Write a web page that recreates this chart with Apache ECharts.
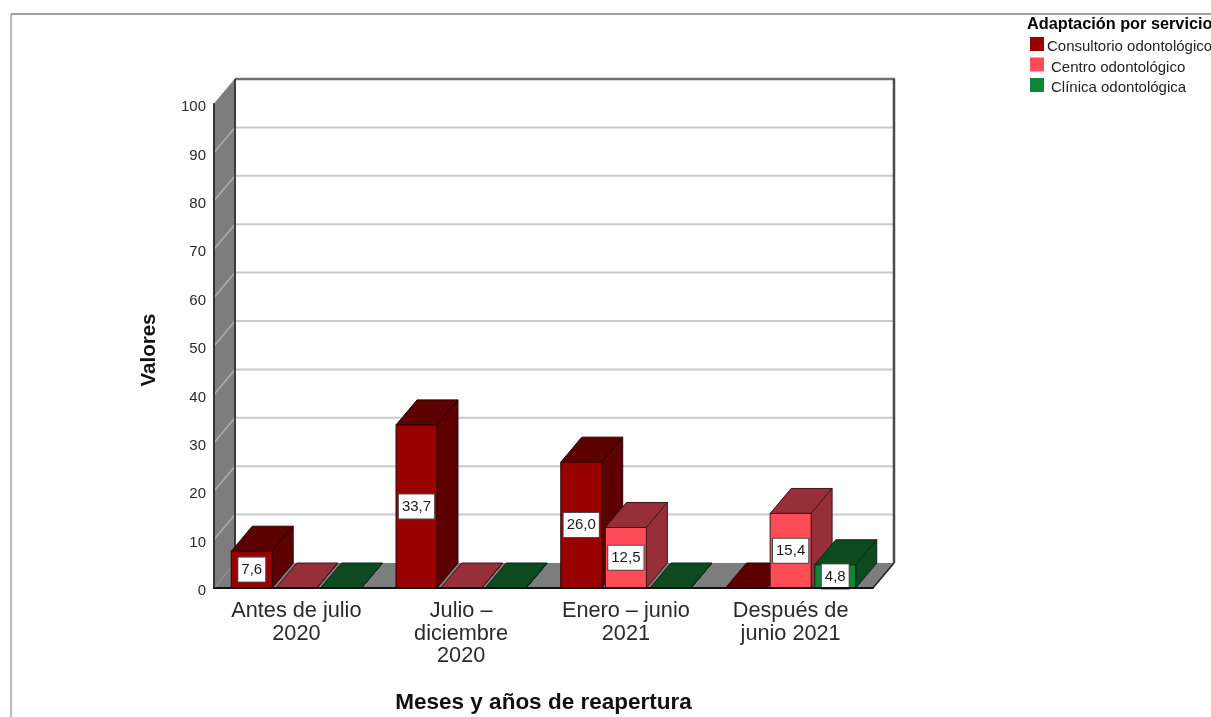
<!DOCTYPE html>
<html>
<head>
<meta charset="utf-8">
<style>html,body{margin:0;padding:0;background:#fff}#chart{width:1211px;height:717px}</style>
<script src="https://cdn.jsdelivr.net/npm/echarts@6/dist/echarts.min.js"></script>
</head>
<body>
<div id="chart"></div>
<script>
// Reopening period by type of dental service
const categories = ['Antes de julio\n2020', 'Julio –\ndiciembre\n2020', 'Enero – junio\n2021', 'Después de\njunio 2021'];
const consultorio = [7.6, 33.7, 26.0, 0];
const centro = [0, 0, 12.5, 15.4];
const clinica = [0, 0, 0, 4.8];
const yTicks = [0, 10, 20, 30, 40, 50, 60, 70, 80, 90, 100];

const FONT = '"Liberation Sans", Arial, sans-serif';
const DEPTH_X = 21, DEPTH_Y = -25;
const BAR_WIDTH = 41 / 165, BAR_PITCH = 44.7 / 165;

const chart = echarts.init(document.getElementById('chart'), null, {renderer: 'canvas'});

// Side wall, floor, back wall and the gridlines running across them
function renderRoom(params, api) {
  const cs = params.coordSys;
  const left = cs.x, right = cs.x + cs.width, top = cs.y, bottom = cs.y + cs.height;
  const children = [];
  if (params.dataIndex === 0) {
    children.push({type: 'polygon', z2: 1, shape: {points: [[left, bottom], [left + DEPTH_X, bottom + DEPTH_Y], [left + DEPTH_X, top + DEPTH_Y], [left, top]]}, style: {fill: '#7d7d7d'}});
    children.push({type: 'polygon', z2: 1, shape: {points: [[left, bottom], [left + DEPTH_X, bottom + DEPTH_Y], [right + DEPTH_X, bottom + DEPTH_Y], [right, bottom]]}, style: {fill: '#7d7d7d'}});
  }
  const y = api.coord([0, api.value(0)])[1];
  if (api.value(0) > 0 && api.value(0) < 100) {
    children.push({type: 'line', z2: 2, shape: {x1: left, y1: y, x2: left + DEPTH_X, y2: y + DEPTH_Y}, style: {stroke: '#aeaeae', lineWidth: 1.5}});
    children.push({type: 'line', z2: 2, shape: {x1: left + DEPTH_X, y1: y + DEPTH_Y, x2: right + DEPTH_X, y2: y + DEPTH_Y}, style: {stroke: '#c9c9c9', lineWidth: 2}});
  }
  if (api.value(0) === 100) {
    children.push({type: 'line', z2: 3, shape: {x1: left, y1: y, x2: left + DEPTH_X, y2: y + DEPTH_Y}, style: {stroke: '#8a8a8a', lineWidth: 1}});
    children.push({type: 'line', z2: 3, shape: {x1: left + DEPTH_X, y1: y + DEPTH_Y, x2: right + DEPTH_X + 1, y2: y + DEPTH_Y}, style: {stroke: '#6e6e6e', lineWidth: 2.5}});
    children.push({type: 'line', z2: 3, shape: {x1: left + DEPTH_X, y1: y + DEPTH_Y, x2: left + DEPTH_X, y2: bottom + DEPTH_Y}, style: {stroke: '#3c3c3c', lineWidth: 2}});
    children.push({type: 'line', z2: 3, shape: {x1: right + DEPTH_X, y1: y + DEPTH_Y, x2: right + DEPTH_X, y2: bottom + DEPTH_Y}, style: {stroke: '#4a4a4a', lineWidth: 2.5}});
    children.push({type: 'line', z2: 3, shape: {x1: right, y1: bottom, x2: right + DEPTH_X, y2: bottom + DEPTH_Y}, style: {stroke: '#222', lineWidth: 1.5}});
  }
  return {type: 'group', children};
}

// One extruded bar: side and top faces behind, front face, then the value tag
function boxRenderer(seriesPos, frontColor, shadeColor, edgeColor) {
  return function (params, api) {
    const value = api.value(1);
    const band = api.size([1, 0])[0];
    const base = api.coord([api.value(0), 0]);
    const topY = api.coord([api.value(0), value])[1];
    const w = band * BAR_WIDTH;
    const x0 = base[0] + (seriesPos - 1) * band * BAR_PITCH - w / 2;
    const x1 = x0 + w;
    const y0 = base[1];
    const edge = {stroke: edgeColor, lineWidth: 1};
    const children = [
      {type: 'polygon', shape: {points: [[x0, topY], [x0 + DEPTH_X, topY + DEPTH_Y], [x1 + DEPTH_X, topY + DEPTH_Y], [x1, topY]]}, style: {fill: shadeColor, ...edge}},
      {type: 'polygon', shape: {points: [[x1, topY], [x1 + DEPTH_X, topY + DEPTH_Y], [x1 + DEPTH_X, y0 + DEPTH_Y], [x1, y0]]}, style: {fill: shadeColor, ...edge}},
      {type: 'rect', shape: {x: x0, y: topY, width: w, height: y0 - topY}, style: {fill: frontColor, ...edge}}
    ];
    if (value > 0) {
      children.push({
        type: 'text', z2: 20,
        style: {
          x: (x0 + x1) / 2, y: (topY + y0) / 2,
          text: value.toFixed(1).replace('.', ','),
          align: 'center', verticalAlign: 'middle',
          fill: '#1a1a1a', font: '15px ' + FONT,
          backgroundColor: '#fff', borderColor: '#4a4a4a', borderWidth: 1, padding: [5, 3, 4, 3]
        }
      });
    }
    return {type: 'group', children};
  };
}

function boxSeries(name, values, pos, front, shade, edge) {
  return {
    name, type: 'custom', z: 3, clip: false, silent: true,
    itemStyle: {color: front},
    encode: {x: 0, y: 1},
    data: values.map((v, i) => [i, v]),
    renderItem: boxRenderer(pos, front, shade, edge)
  };
}

const legendText = {fontFamily: FONT, fontSize: 15, color: '#222'};

chart.setOption({
  animation: false,
  backgroundColor: '#fff',
  textStyle: {fontFamily: FONT},
  title: {
    text: 'Adaptación por servicio', left: 1022, top: 12,
    textStyle: {fontFamily: FONT, fontSize: 16.3, fontWeight: 'bold', color: '#000'}
  },
  legend: {
    orient: 'vertical', left: 1025, top: 32, icon: 'rect',
    itemWidth: 14, itemHeight: 14, itemGap: 3, selectedMode: false,
    formatter: name => (name.startsWith('Consultorio') ? '{first|' : '{rest|') + name + '}',
    textStyle: {
      ...legendText,
      rich: {
        first: {...legendText, padding: [6, 0, 0, -2]},
        rest: {...legendText, padding: [6, 0, 0, 2]}
      }
    },
    data: ['Consultorio odontológico', 'Centro odontológico', 'Clínica odontológica']
  },
  grid: {left: 214, top: 104, width: 659, height: 484, outerBoundsMode: 'none'},
  xAxis: {
    type: 'category', data: categories, z: 10,
    name: 'Meses y años de reapertura', nameLocation: 'middle', nameGap: 103,
    nameTextStyle: {fontFamily: FONT, fontSize: 22.5, fontWeight: 'bold', color: '#111'},
    axisLine: {show: true, lineStyle: {color: '#111', width: 2}},
    axisTick: {show: false},
    axisLabel: {interval: 0, margin: 12, fontFamily: FONT, fontSize: 21.7, lineHeight: 22.5, color: '#2a2a2a'}
  },
  yAxis: {
    type: 'value', min: 0, max: 100, interval: 10, z: 10,
    name: 'Valores', nameLocation: 'middle', nameGap: 54, nameRotate: 90,
    nameTextStyle: {fontFamily: FONT, fontSize: 20.5, fontWeight: 'bold', color: '#111', padding: [0, 0, 0, -8]},
    axisLine: {show: true, lineStyle: {color: '#333', width: 2}},
    axisTick: {show: false},
    splitLine: {show: false},
    axisLabel: {margin: 8, fontFamily: FONT, fontSize: 15, color: '#2a2a2a', verticalAlign: 'top', lineHeight: 6}
  },
  series: [
    {
      type: 'custom', name: 'Paredes', z: 1, clip: false, silent: true,
      encode: {x: -1, y: 0},
      data: yTicks.map(v => [v]),
      renderItem: renderRoom
    },
    boxSeries('Consultorio odontológico', consultorio, 0, '#990000', '#5c0000', '#2a0000'),
    boxSeries('Centro odontológico', centro, 1, '#ff4d58', '#962f38', '#3f1418'),
    boxSeries('Clínica odontológica', clinica, 2, '#118537', '#0e4a20', '#06250f')
  ],
  graphic: [
    {type: 'line', silent: true, shape: {x1: 11, y1: 14, x2: 1211, y2: 14}, style: {stroke: '#444', lineWidth: 1}},
    {type: 'line', silent: true, shape: {x1: 11, y1: 14, x2: 11, y2: 717}, style: {stroke: '#777', lineWidth: 1}}
  ]
});
</script>
</body>
</html>
